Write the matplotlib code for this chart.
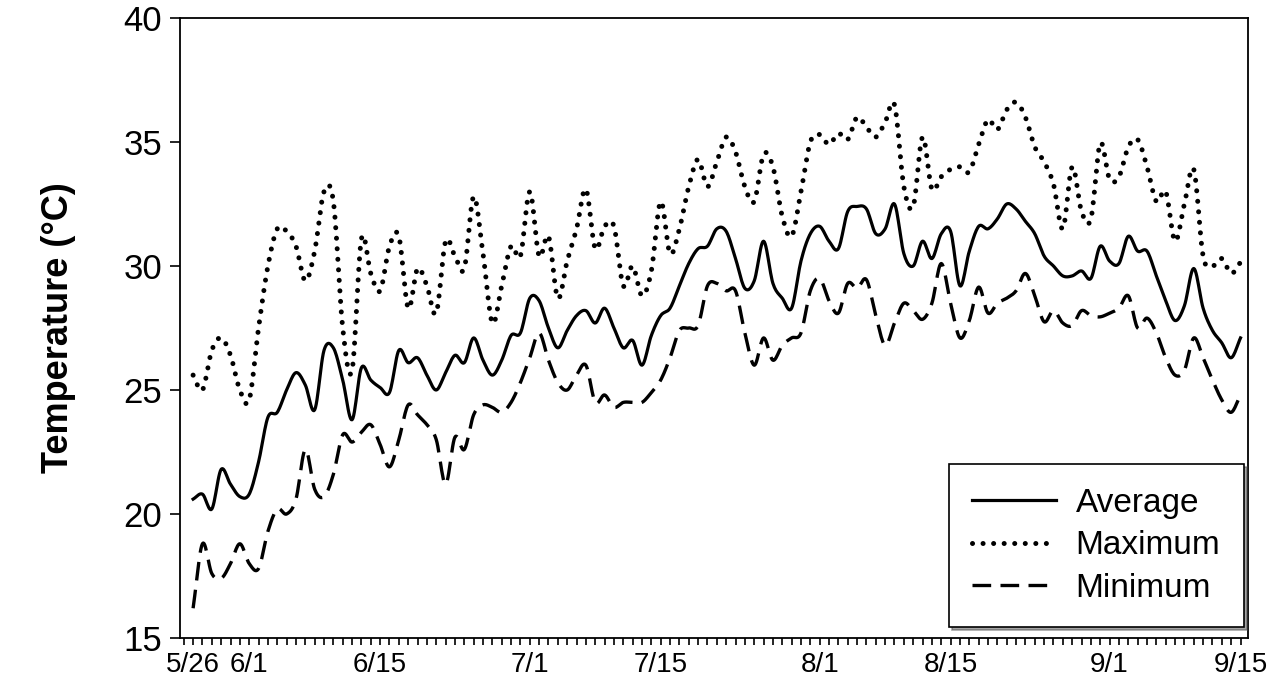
import numpy as np
import matplotlib
matplotlib.use("Agg")
import matplotlib.pyplot as plt

plt.rcParams['font.family'] = ['Liberation Sans', 'DejaVu Sans']

# daily values, 5/26 .. 9/15
avg_temp = [20.6, 20.8, 20.2, 21.8, 21.2, 20.7, 20.8, 22.1, 23.9, 24.1,
            25.0, 25.7, 25.2, 24.2, 26.6, 26.7, 25.4, 23.8, 25.9, 25.4,
            25.1, 24.9, 26.6, 26.1, 26.3, 25.6, 25.0, 25.7, 26.4, 26.1,
            27.1, 26.2, 25.6, 26.2, 27.2, 27.3, 28.7, 28.6, 27.5, 26.7,
            27.4, 28.0, 28.2, 27.7, 28.3, 27.5, 26.7, 27.0, 26.0, 27.2,
            28.0, 28.3, 29.2, 30.1, 30.7, 30.8, 31.5, 31.4, 30.3, 29.1,
            29.4, 31.0, 29.3, 28.7, 28.3, 30.2, 31.3, 31.6, 31.0, 30.7,
            32.2, 32.4, 32.3, 31.3, 31.5, 32.5, 30.5, 30.0, 31.0, 30.3,
            31.3, 31.4, 29.2, 30.6, 31.6, 31.5, 31.9, 32.5, 32.3, 31.8,
            31.3, 30.4, 30.0, 29.6, 29.6, 29.8, 29.5, 30.8, 30.2, 30.1,
            31.2, 30.6, 30.6, 29.6, 28.6, 27.8, 28.4, 29.9, 28.3, 27.4,
            26.9, 26.3, 27.1]

max_temp = [25.6, 25.0, 26.6, 27.1, 26.4, 25.0, 24.6, 27.5, 30.0, 31.5,
            31.4, 30.8, 29.4, 30.6, 33.0, 32.6, 27.5, 25.8, 31.1, 29.7,
            29.0, 30.8, 31.2, 28.3, 29.9, 29.2, 28.1, 31.0, 30.4, 29.9,
            32.8, 30.5, 27.7, 29.2, 30.8, 30.4, 33.0, 30.4, 31.2, 28.7,
            30.2, 31.5, 33.1, 30.7, 31.6, 31.6, 29.2, 30.0, 28.8, 29.8,
            32.6, 30.5, 31.5, 33.2, 34.3, 33.2, 34.2, 35.2, 34.6, 33.2,
            32.6, 34.5, 34.0, 32.0, 31.2, 33.0, 35.0, 35.3, 34.9, 35.35,
            35.1, 36.0, 35.6, 35.2, 35.8, 36.5, 33.2, 32.4, 35.2, 33.1,
            33.6, 33.9, 34.0, 33.8, 34.9, 35.9, 35.5, 36.3, 36.6, 36.0,
            34.8, 34.2, 33.3, 31.5, 34.0, 32.2, 31.9, 34.95, 33.5, 33.6,
            34.8, 35.1, 34.0, 32.6, 33.0, 31.0, 32.5, 33.9, 30.4, 30.0,
            30.3, 29.7, 30.15]

min_temp = [16.2, 18.8, 17.6, 17.4, 18.0, 18.8, 18.0, 17.8, 19.3, 20.2,
            20.0, 20.6, 22.6, 21.0, 20.7, 21.6, 23.2, 22.9, 23.3, 23.6,
            22.8, 21.9, 23.0, 24.4, 24.0, 23.6, 23.0, 21.2, 23.1, 22.6,
            24.0, 24.4, 24.3, 24.1, 24.5, 25.3, 26.3, 27.3, 26.2, 25.3,
            25.0, 25.6, 26.0, 24.5, 24.8, 24.3, 24.5, 24.5, 24.5, 24.9,
            25.4, 26.3, 27.4, 27.5, 27.6, 29.2, 29.3, 29.0, 29.0, 27.3,
            26.0, 27.1, 26.2, 26.8, 27.1, 27.3, 29.0, 29.5, 28.6, 28.1,
            29.3, 29.1, 29.45, 28.0, 26.8, 27.7, 28.5, 28.2, 27.85, 28.5,
            30.1, 28.5, 27.1, 27.8, 29.15, 28.1, 28.5, 28.7, 29.0, 29.7,
            28.8, 27.75, 28.2, 27.7, 27.6, 28.2, 28.0, 27.95, 28.1, 28.3,
            28.8, 27.5, 27.9, 27.3, 26.3, 25.6, 25.8, 27.1, 26.3, 25.4,
            24.6, 24.1, 24.8]

tick_days = [0, 6, 20, 36, 50, 67, 81, 98, 112]
tick_text = ['5/26', '6/1', '6/15', '7/1', '7/15', '8/1', '8/15', '9/1', '9/15']


def smooth(y, n=12):
    # catmull-rom curve through the daily points (like a smoothed line)
    y = np.asarray(y, dtype=float)
    p = np.concatenate([[2 * y[0] - y[1]], y, [2 * y[-1] - y[-2]]])
    xs, ys = [], []
    t = np.linspace(0, 1, n, endpoint=False)
    for i in range(len(y) - 1):
        p0, p1, p2, p3 = p[i], p[i + 1], p[i + 2], p[i + 3]
        seg = 0.5 * ((2 * p1) + (-p0 + p2) * t + (2 * p0 - 5 * p1 + 4 * p2 - p3) * t ** 2
                     + (-p0 + 3 * p1 - 3 * p2 + p3) * t ** 3)
        xs.append(i + t)
        ys.append(seg)
    xs.append([len(y) - 1])
    ys.append([y[-1]])
    return np.concatenate(xs), np.concatenate(ys)


fig = plt.figure(figsize=(12.77, 6.98), dpi=100)
ax = fig.add_axes([180 / 1277, 60 / 698, 1068 / 1277, 620 / 698])

x, y = smooth(avg_temp)
ax.plot(x, y, color='black', lw=2.3, label='Average')
x, y = smooth(max_temp)
ax.plot(x, y, color='black', lw=3.6, linestyle=(0, (0.01, 2.1)),
        dash_capstyle='round', label='Maximum')
x, y = smooth(min_temp)
ax.plot(x, y, color='black', lw=2.4, linestyle=(0, (5.6, 2.8)), label='Minimum')

ax.set_xlim(-1.4, 112.8)
ax.set_ylim(15, 40)
ax.set_yticks([15, 20, 25, 30, 35, 40])

days = list(range(-1, 113))
labels = [tick_text[tick_days.index(d)] if d in tick_days else '' for d in days]
ax.set_xticks(days)
ax.set_xticklabels(labels, fontsize=20)
ax.tick_params(axis='x', direction='out', length=5, width=1.2, pad=5)
ax.tick_params(axis='y', direction='out', length=7, width=1.2, pad=6, labelsize=25)

for s in ax.spines.values():
    s.set_linewidth(1.3)

ax.set_ylabel('Temperature (°C)', fontsize=26, fontweight='bold')
ax.yaxis.set_label_coords(-0.097, 0.5)

leg = ax.legend(loc='lower right', bbox_to_anchor=(0.996, 0.017), borderaxespad=0,
                fontsize=24, handlelength=2.5, handletextpad=0.6, fancybox=False,
                edgecolor='black', framealpha=1, shadow=True, borderpad=0.7,
                labelspacing=0.35)
leg.get_frame().set_linewidth(1.2)

fig.savefig('out.png', dpi=100)
